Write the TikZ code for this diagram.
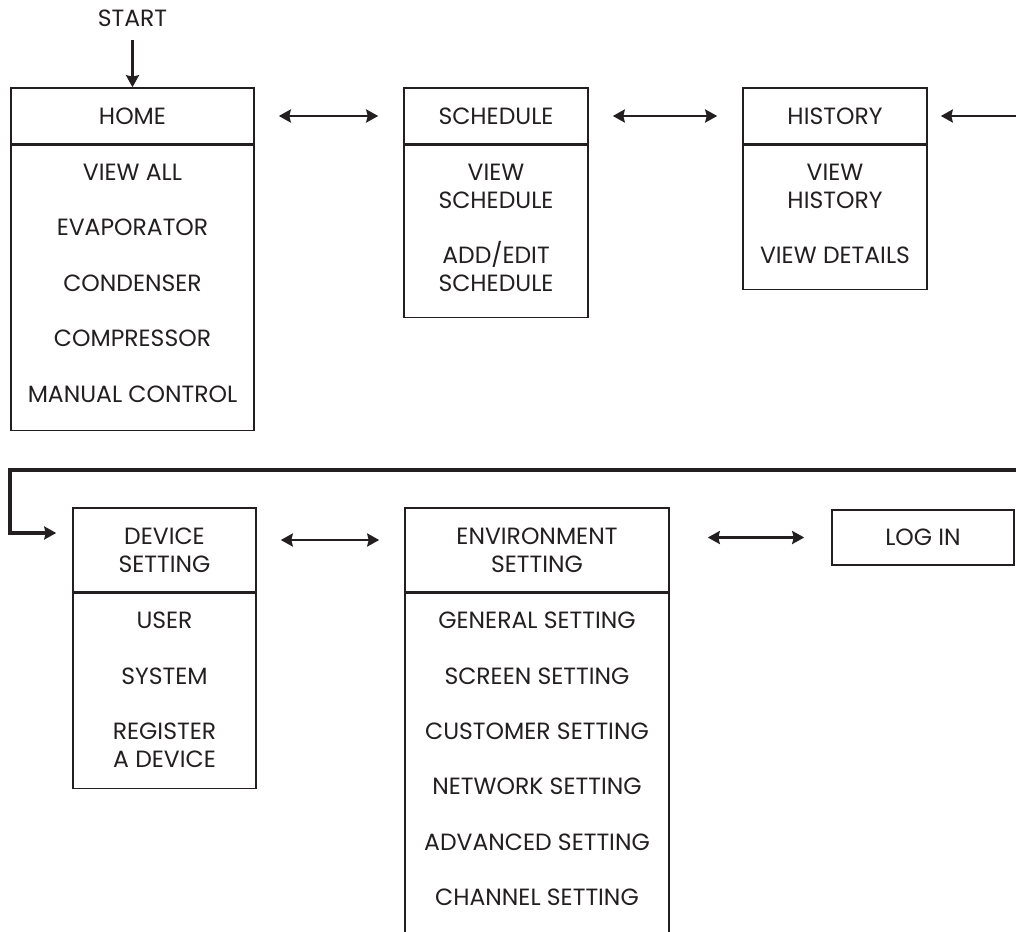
\documentclass[tikz,border=0pt]{standalone}
\usepackage{fontspec}
\setmainfont{Poppins}
\usetikzlibrary{positioning,arrows.meta}
\definecolor{ink}{HTML}{231F20}

\newcommand{\gap}{\\[27.7pt]}

\tikzset{%
  menu head/.style={
    rectangle,
    draw=ink,
    line width=1.6pt,
    inner sep=0pt,
    align=center,
    text=ink
  },
  menu body/.style={
    rectangle,
    draw=ink,
    line width=1.6pt,
    inner sep=0pt
  },
  menu items/.style={
    inner sep=0pt,
    align=center,
    text=ink,
    anchor=north
  },
  link/.style={
    {Stealth[length=12pt,width=13pt,inset=1.5pt]}-{Stealth[length=12pt,width=13pt,inset=1.5pt]},
    draw=ink,
    line width=2.4pt
  },
  go/.style={
    -{Stealth[length=12pt,width=13pt,inset=1.5pt]},
    draw=ink,
    line width=2.4pt
  },
  back loop/.style={
    -{Stealth[length=12pt,width=13pt,inset=1.5pt]},
    draw=ink,
    line width=3.6pt
  },
}

\begin{document}
\begin{tikzpicture}[x=1pt,y=-1pt,font=\fontsize{23.5}{27.7}\selectfont]
\useasboundingbox (0,0) rectangle (1016,931);

\node[inner sep=0pt, text=ink] (start) at (132.5,18) {START};

\node[menu head, minimum width=243pt, minimum height=56pt] (home) at (132.5,116) {HOME};
\node[menu body, minimum width=243pt, minimum height=285pt, below=0pt of home] (homebody) {};
\node[menu items] (homelist) at ([yshift=-19pt]homebody.north)
  {VIEW ALL\gap EVAPORATOR\gap CONDENSER\gap COMPRESSOR\gap MANUAL CONTROL};

\node[menu head, minimum width=184pt, minimum height=56pt] (sched) at (496,116) {SCHEDULE};
\node[menu body, minimum width=184pt, minimum height=172pt, below=0pt of sched] (schedbody) {};
\node[menu items] (schedlist) at ([yshift=-19pt]schedbody.north)
  {VIEW\\SCHEDULE\gap ADD/EDIT\\SCHEDULE};

\node[menu head, minimum width=184pt, minimum height=56pt] (hist) at (835,116) {HISTORY};
\node[menu body, minimum width=184pt, minimum height=144pt, below=0pt of hist] (histbody) {};
\node[menu items] (histlist) at ([yshift=-19pt]histbody.north)
  {VIEW\\HISTORY\gap VIEW DETAILS};

\node[menu head, minimum width=183pt, minimum height=84pt] (dev) at (164.5,550) {DEVICE\\SETTING};
\node[menu body, minimum width=183pt, minimum height=195pt, below=0pt of dev] (devbody) {};
\node[menu items] (devlist) at ([yshift=-19pt]devbody.north)
  {USER\gap SYSTEM\gap REGISTER\\A DEVICE};

\node[menu head, minimum width=264pt, minimum height=84pt] (env) at (537,550) {ENVIRONMENT\\SETTING};
\node[menu body, minimum width=264pt, minimum height=360pt, below=0pt of env] (envbody) {};
\node[menu items] (envlist) at ([yshift=-19pt]envbody.north)
  {GENERAL SETTING\gap SCREEN SETTING\gap CUSTOMER SETTING\gap
   NETWORK SETTING\gap ADVANCED SETTING\gap CHANNEL SETTING};

\node[menu head, minimum width=182pt, minimum height=55pt] (login) at (923,537.5) {LOG IN};

\coordinate (histin) at (1016,116);
\coordinate (loopin) at (1016,470);
\coordinate (loopturn) at (10,470);

\draw[go, shorten <=13pt] (start) -- (home);
\draw[link, shorten <=24pt, shorten >=25pt] (home) -- (sched);
\draw[link, shorten <=24pt, shorten >=25pt] (sched) -- (hist);
\draw[go, shorten >=13pt] (histin) -- (hist.east);
\draw[back loop, shorten >=16pt] (loopin) -- (loopturn) |- ([yshift=17pt]dev.west);
\draw[link, shorten <=24pt, shorten >=25pt] ([yshift=10pt]dev.east) -- ([yshift=10pt]env.west);
\draw[link, shorten <=38pt, shorten >=27pt] ([yshift=12.5pt]env.east) -- (login.west);
\end{tikzpicture}
\end{document}
